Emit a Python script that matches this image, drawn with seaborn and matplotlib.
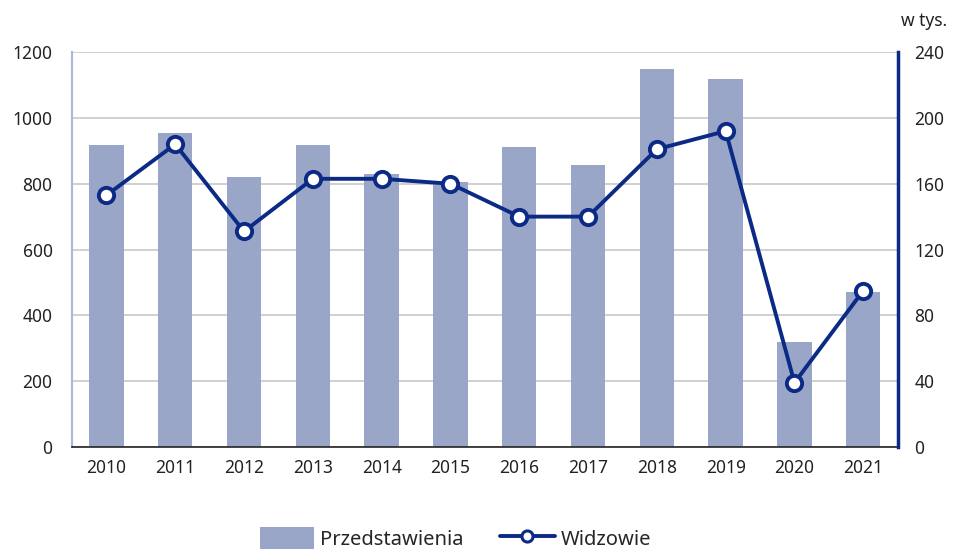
import numpy as np
import pandas as pd
import matplotlib
matplotlib.use("Agg")
import matplotlib.pyplot as plt
import seaborn as sns
from matplotlib.lines import Line2D
from matplotlib.patches import Patch

# data
years = ["2010", "2011", "2012", "2013", "2014", "2015",
         "2016", "2017", "2018", "2019", "2020", "2021"]
przedstawienia = [917, 953, 819, 917, 830, 806, 911, 857, 1148, 1117, 320, 472]
widzowie = [153, 184, 131, 163, 163, 160, 140, 140, 181, 192, 39, 95]

bar_color = "#9aa6c8"
line_color = "#0b2a85"

df = pd.DataFrame({"rok": years, "przedstawienia": przedstawienia, "widzowie": widzowie})

sns.set_theme(style="white")
plt.rcParams["font.family"] = ["Noto Sans", "DejaVu Sans"]

fig = plt.figure(figsize=(9.55, 5.49), dpi=100)
ax = fig.add_axes([0.0754, 0.186, 0.8646, 0.719])

sns.barplot(data=df, x="rok", y="przedstawienia", color=bar_color,
            saturation=1, width=0.5, linewidth=0, ax=ax)
ax.set_ylim(0, 1200)
ax.set_xlim(-0.5, 11.5)
ax.set_yticks(np.arange(0, 1201, 200))
ax.yaxis.grid(True, color="#c8c8c8", linewidth=1.2)
ax.set_axisbelow(True)
ax.set_xlabel("")
ax.set_ylabel("")
ax.tick_params(axis="both", length=0, labelsize=12.5, colors="#222222")
ax.tick_params(axis="y", pad=14)
ax.tick_params(axis="x", pad=9)
for s in ["top", "right"]:
    ax.spines[s].set_visible(False)
ax.spines["left"].set_color("#a9b7d9")
ax.spines["left"].set_linewidth(1.5)
ax.spines["bottom"].set_color("#222222")
ax.spines["bottom"].set_linewidth(1.2)

ax2 = ax.twinx()
sns.lineplot(data=df, x="rok", y="widzowie", color=line_color, linewidth=2.8,
             marker="o", markersize=11, markerfacecolor="white",
             markeredgecolor=line_color, markeredgewidth=2.8, ax=ax2)
ax2.set_ylim(0, 240)
ax2.set_xlim(-0.5, 11.5)
ax2.set_yticks(np.arange(0, 241, 40))
ax2.set_ylabel("")
ax2.tick_params(axis="y", length=0, labelsize=12.5, colors="#222222", pad=12)
for s in ["top", "left", "bottom"]:
    ax2.spines[s].set_visible(False)
ax2.spines["right"].set_color(line_color)
ax2.spines["right"].set_linewidth(2.5)
ax2.grid(False)
fig.text(0.992, 0.945, "w tys.", ha="right", va="bottom", fontsize=12.5, color="#222222")

handles = [Patch(facecolor=bar_color, edgecolor="none"),
           Line2D([0], [0], color=line_color, linewidth=2.8, marker="o", markersize=8,
                  markerfacecolor="white", markeredgecolor=line_color, markeredgewidth=2.2)]
fig.legend(handles, ["Przedstawienia", "Widzowie"], loc="lower center",
           bbox_to_anchor=(0.477, -0.035), ncol=2, frameon=False, fontsize=14.5,
           handlelength=2.7, handleheight=1.3, handletextpad=0.3, columnspacing=1.8)

fig.savefig("out.png", dpi=100)
